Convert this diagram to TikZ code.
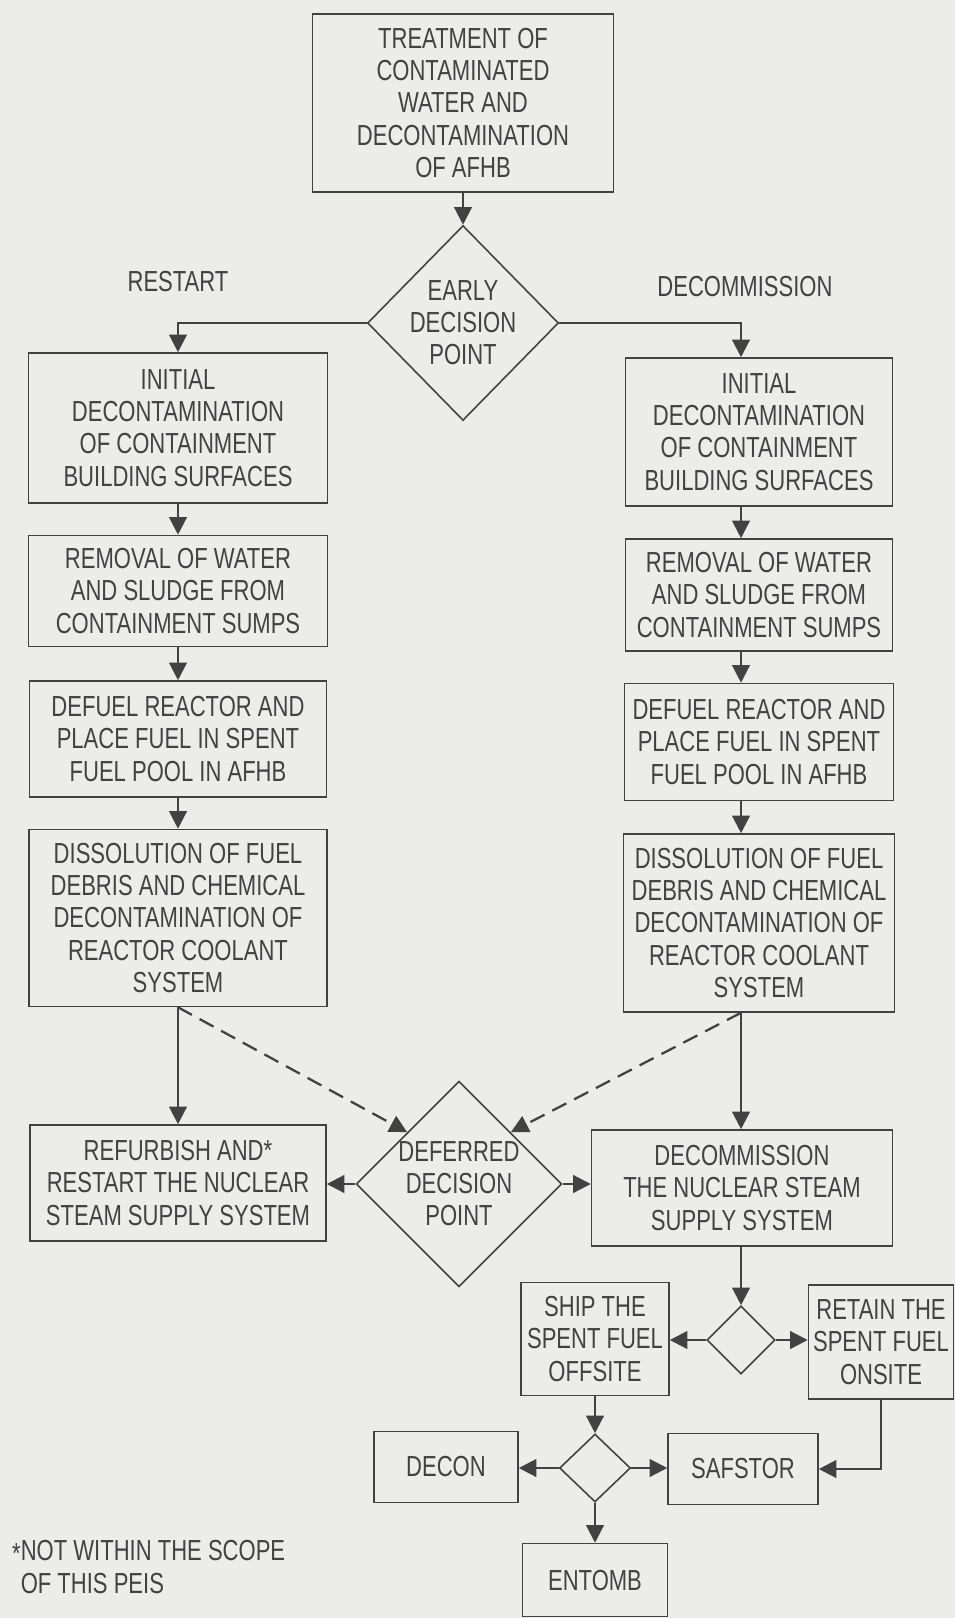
\documentclass[tikz,border=0pt]{standalone}
\usepackage{fontspec}
\setmainfont{Liberation Sans}[FakeStretch=0.76]
\usetikzlibrary{shapes.geometric,arrows.meta,positioning}
\definecolor{paper}{RGB}{236,236,233}
\definecolor{ink}{RGB}{66,66,66}

\begin{document}
\begin{tikzpicture}[x=0.02cm,y=-0.02cm,
  every node/.style={font=\fontsize{16.5}{18.3}\selectfont, text=ink},
  box/.style={draw=ink, line width=0.9pt, align=center, inner sep=0pt},
  decision/.style={draw=ink, line width=0.9pt, diamond, align=center, inner sep=0pt},
  arr/.style={draw=ink, line width=1.3pt, -{Triangle[length=10pt,width=10pt]}},
  deferred/.style={dash pattern=on 9pt off 5pt}
]

% ------------------------------------------------------------
% Page
% ------------------------------------------------------------
\useasboundingbox (0,0) rectangle (955,1618);
\fill[paper] (0,0) rectangle (955,1618);

% ------------------------------------------------------------
% Top box and early decision
% ------------------------------------------------------------
\node[box, minimum width=6.02cm, minimum height=3.56cm] (treat) at (463,103)
  {TREATMENT OF\\CONTAMINATED\\WATER AND\\DECONTAMINATION\\OF AFHB};
\node[decision, minimum width=3.8cm, minimum height=3.9cm] (early) at (463,323)
  {EARLY\\DECISION\\POINT};
\node (restart) at (178,282) {RESTART};
\node (decom) at (745,287) {DECOMMISSION};
\coordinate (rx) at (741,0);

% ------------------------------------------------------------
% Restart column
% ------------------------------------------------------------
\node[box, minimum width=5.98cm, minimum height=3.0cm] (l1) at (178,428)
  {INITIAL\\DECONTAMINATION\\OF CONTAINMENT\\BUILDING SURFACES};
\node[box, minimum width=5.98cm, minimum height=2.22cm] (l2) at (178,591)
  {REMOVAL OF WATER\\AND SLUDGE FROM\\CONTAINMENT SUMPS};
\node[box, minimum width=5.94cm, minimum height=2.32cm] (l3) at (178,739)
  {DEFUEL REACTOR AND\\PLACE FUEL IN SPENT\\FUEL POOL IN AFHB};
\node[box, minimum width=5.96cm, minimum height=3.54cm] (l4) at (178,918)
  {DISSOLUTION OF FUEL\\DEBRIS AND CHEMICAL\\DECONTAMINATION OF\\REACTOR COOLANT\\SYSTEM};

% ------------------------------------------------------------
% Decommission column
% ------------------------------------------------------------
\node[box, minimum width=5.34cm, minimum height=2.96cm] (r1) at (759,432)
  {INITIAL\\DECONTAMINATION\\OF CONTAINMENT\\BUILDING SURFACES};
\node[box, minimum width=5.34cm, minimum height=2.24cm] (r2) at (759,595)
  {REMOVAL OF WATER\\AND SLUDGE FROM\\CONTAINMENT SUMPS};
\node[box, minimum width=5.38cm, minimum height=2.34cm] (r3) at (759,742)
  {DEFUEL REACTOR AND\\PLACE FUEL IN SPENT\\FUEL POOL IN AFHB};
\node[box, minimum width=5.42cm, minimum height=3.56cm] (r4) at (759,923)
  {DISSOLUTION OF FUEL\\DEBRIS AND CHEMICAL\\DECONTAMINATION OF\\REACTOR COOLANT\\SYSTEM};

% ------------------------------------------------------------
% Deferred decision and its outcomes
% ------------------------------------------------------------
\node[decision, minimum width=3.92cm, minimum height=4.0cm] (defer) at (459,1184)
  {DEFERRED\\DECISION\\POINT};
\node[box, minimum width=5.92cm, minimum height=2.32cm] (refurb) at (178,1183)
  {REFURBISH AND*\\RESTART THE NUCLEAR\\STEAM SUPPLY SYSTEM};
\node[box, minimum width=6.02cm, minimum height=2.32cm] (nsss) at (742,1188)
  {DECOMMISSION\\THE NUCLEAR STEAM\\SUPPLY SYSTEM};

% ------------------------------------------------------------
% Spent fuel and end states
% ------------------------------------------------------------
\node[decision, minimum width=1.36cm, minimum height=1.36cm] (splitA) at (741,1340) {};
\node[box, minimum width=2.96cm, minimum height=2.26cm] (ship) at (595,1339)
  {SHIP THE\\SPENT FUEL\\OFFSITE};
\node[box, minimum width=2.9cm, minimum height=2.28cm] (retain) at (881,1342)
  {RETAIN THE\\SPENT FUEL\\ONSITE};
\node[decision, minimum width=1.42cm, minimum height=1.36cm] (splitB) at (595,1468) {};
\node[box, minimum width=2.88cm, minimum height=1.42cm] (decon) at (446,1467) {DECON};
\node[box, minimum width=3.0cm, minimum height=1.42cm] (safstor) at (743,1469) {SAFSTOR};
\node[box, minimum width=2.9cm, minimum height=1.46cm] (entomb) at (595,1580) {ENTOMB};

\node[anchor=west, align=left] (note) at (6,1567)
  {\raisebox{-0.2ex}{*}NOT WITHIN THE SCOPE\\\phantom{*}OF THIS PEIS};

% ------------------------------------------------------------
% Connectors
% ------------------------------------------------------------
\draw[arr] (treat) -- (early);
\draw[arr] (early.west) -| (l1.north);
\draw[arr] (early.east) -| (rx |- r1.north);

\draw[arr] (l1) -- (l2);
\draw[arr] (l2) -- (l3);
\draw[arr] (l3) -- (l4);
\draw[arr] (rx |- r1.south) -- (rx |- r2.north);
\draw[arr] (rx |- r2.south) -- (rx |- r3.north);
\draw[arr] (rx |- r3.south) -- (rx |- r4.north);

\draw[arr] (l4) -- (refurb);
\draw[arr, deferred] (l4.south) -- (defer.north west);
\draw[arr, deferred] (rx |- r4.south) -- (defer.north east);
\draw[arr] (rx |- r4.south) -- (rx |- nsss.north);
\draw[arr] (defer.west) -- (defer.west -| refurb.east);
\draw[arr] (defer.east) -- (defer.east -| nsss.west);

\draw[arr] (rx |- nsss.south) -- (splitA.north);
\draw[arr] (splitA.west) -- (splitA.west -| ship.east);
\draw[arr] (splitA.east) -- (splitA.east -| retain.west);
\draw[arr] (ship) -- (splitB);
\draw[arr] (splitB.west) -- (splitB.west -| decon.east);
\draw[arr] (splitB.east) -- (splitB.east -| safstor.west);
\draw[arr] (splitB) -- (entomb);
\draw[arr] (retain.south) |- (safstor.east);

\end{tikzpicture}
\end{document}
